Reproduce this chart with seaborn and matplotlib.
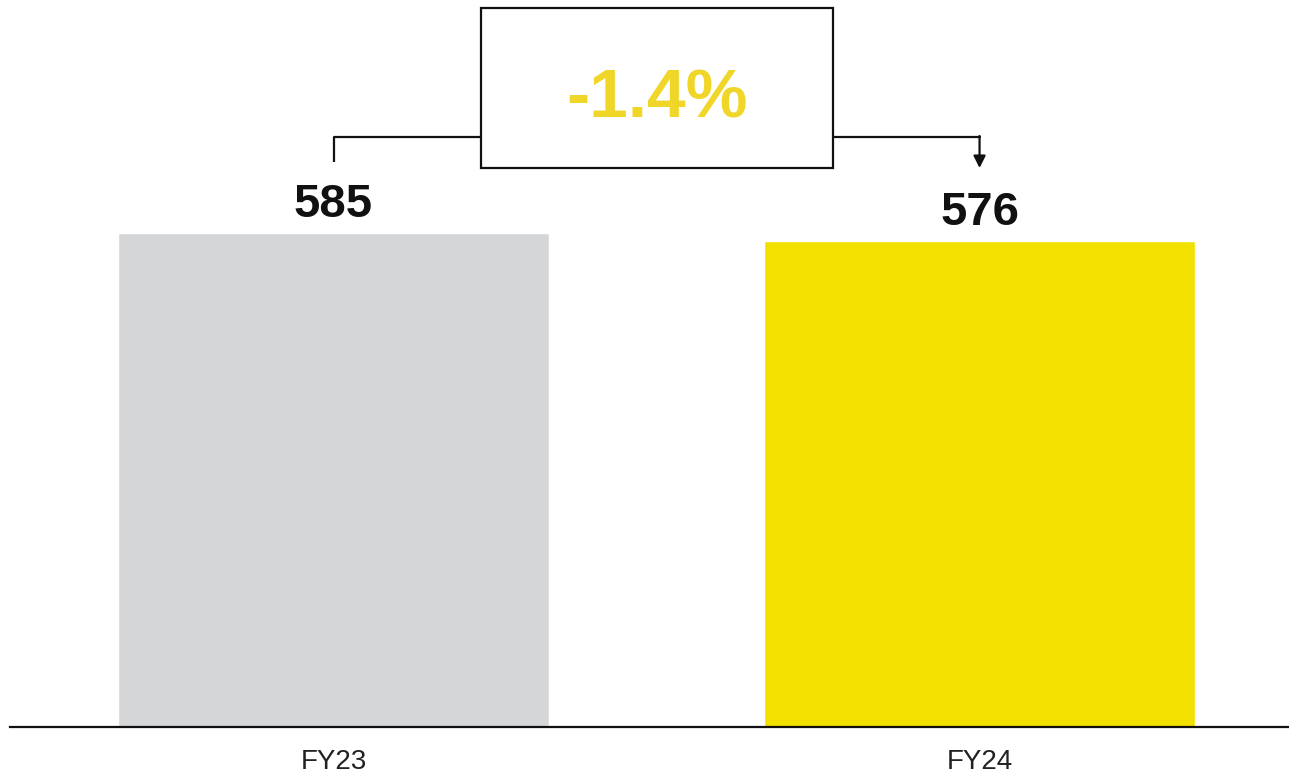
import matplotlib
matplotlib.use("Agg")
import matplotlib.pyplot as plt
import seaborn as sns
import pandas as pd
from matplotlib.patches import Rectangle

# Data
years = ["FY23", "FY24"]
values = [585, 576]
change_label = "-1.4%"

bar_colors = ["#D5D6D8", "#F2E000"]
accent = "#F0D629"

sns.set_theme(style="white")
plt.rcParams["font.family"] = ["Liberation Sans", "DejaVu Sans"]

fig = plt.figure(figsize=(12.89, 7.74), dpi=100)
ax = fig.add_axes([10 / 1289, 47 / 774, 1279 / 1289, 727 / 774])

df = pd.DataFrame({"year": years, "value": values})
sns.barplot(data=df, x="year", y="value", hue="year", palette=bar_colors,
            width=0.667, legend=False, ax=ax, saturation=1)

ax.set_xlim(-0.5008, 1.479)
ax.set_ylim(0, 861)

for s in ["top", "right", "left"]:
    ax.spines[s].set_visible(False)
ax.spines["bottom"].set_linewidth(1.6)
ax.spines["bottom"].set_color("#111111")
ax.set_yticks([])
ax.set_xlabel("")
ax.set_ylabel("")
ax.tick_params(axis="x", length=0, pad=16, labelsize=20, labelcolor="#222222")

# Value labels above the bars
for i, v in enumerate(values):
    ax.text(i, v + 19, f"{v}", ha="center", va="baseline",
            fontsize=34, fontweight="bold", color="#111111")

# Change box with connector
box_x0, box_x1 = 0.228, 0.773
box_y0, box_y1 = 662, 852
ax.add_patch(Rectangle((box_x0, box_y0), box_x1 - box_x0, box_y1 - box_y0,
                       fill=False, edgecolor="#111111", linewidth=1.6,
                       clip_on=False, zorder=3))
ax.text((box_x0 + box_x1) / 2, 722, change_label,
        ha="center", va="baseline", fontsize=50, fontweight="bold",
        color=accent, zorder=4)

conn_y = 699
ax.plot([0, 0, box_x0], [values[0] + 84, conn_y, conn_y],
        color="#111111", linewidth=1.6, clip_on=False, solid_capstyle="butt")
ax.plot([box_x1, 1], [conn_y, conn_y], color="#111111", linewidth=1.6,
        clip_on=False)
ax.annotate("", xy=(1, values[1] + 86), xytext=(1, conn_y + 1),
            arrowprops=dict(arrowstyle="-|>,head_length=0.6,head_width=0.3",
                            color="#111111", linewidth=1.6,
                            shrinkA=0, shrinkB=0),
            annotation_clip=False)

fig.savefig("out.png", dpi=100)
